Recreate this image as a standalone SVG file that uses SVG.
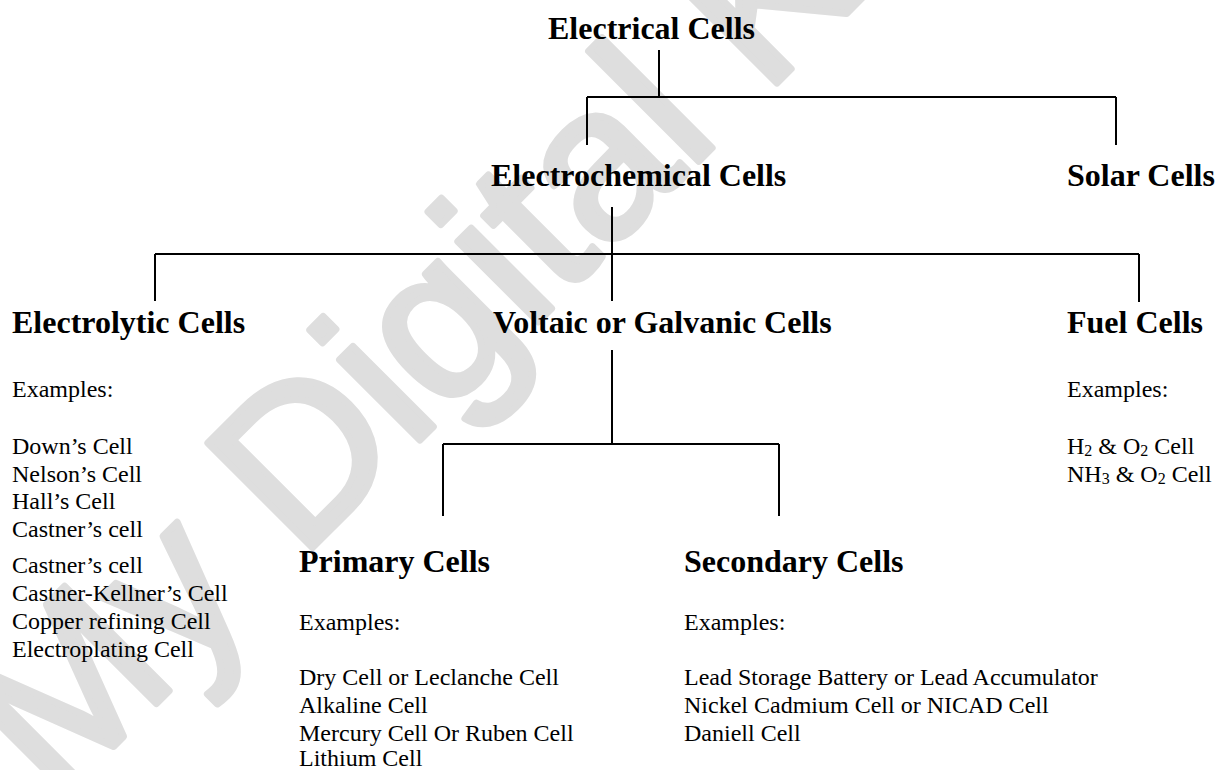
<svg xmlns="http://www.w3.org/2000/svg" width="1217" height="770" viewBox="0 0 1217 770">
<style>
.h{font-family:"Liberation Serif","Times New Roman",serif;font-weight:bold;font-size:32px;fill:#000}
.b{font-family:"Liberation Serif","Times New Roman",serif;font-size:24px;fill:#000}
.sub{font-size:16px}
.c{stroke:#000;stroke-width:2;fill:none}
.wm{font-family:"Liberation Sans",Arial,sans-serif;font-size:215px;fill:#dedede;stroke:#dedede;stroke-width:7;stroke-linejoin:round}
</style>
<rect width="1217" height="770" fill="#fff"/>
<g id="watermark">
<text class="wm" transform="translate(55,805) rotate(-45)">My Digital K</text>
</g>
<g id="connectors" class="c">
<path d="M659,50V97M587,97H1116M587,97V145M1116,97V145"/>
<path d="M612,207V301M155,254H1139M155,254V301M1139,254V302"/>
<path d="M612,350V444M443,444H779M443,444V516M779,444V516"/>
</g>
<g id="electrical"><text class="h" x="548" y="39">Electrical Cells</text></g>
<g id="electrochemical"><text class="h" x="491" y="186">Electrochemical Cells</text></g>
<g id="solar"><text class="h" x="1067" y="186">Solar Cells</text></g>
<g id="electrolytic">
<text class="h" x="12" y="333">Electrolytic Cells</text>
<text class="b" x="12" y="397">Examples:</text>
<text class="b" x="12" y="454">Down’s Cell</text>
<text class="b" x="12" y="482">Nelson’s Cell</text>
<text class="b" x="12" y="509">Hall’s Cell</text>
<text class="b" x="12" y="537">Castner’s cell</text>
<text class="b" x="12" y="573">Castner’s cell</text>
<text class="b" x="12" y="601">Castner-Kellner’s Cell</text>
<text class="b" x="12" y="629">Copper refining Cell</text>
<text class="b" x="12" y="657">Electroplating Cell</text>
</g>
<g id="voltaic"><text class="h" x="493" y="333">Voltaic or Galvanic Cells</text></g>
<g id="fuel">
<text class="h" x="1067" y="333">Fuel Cells</text>
<text class="b" x="1067" y="397">Examples:</text>
<text class="b" x="1067" y="454">H<tspan class="sub" dy="2">2</tspan><tspan dy="-2"> &amp; O</tspan><tspan class="sub" dy="2">2</tspan><tspan dy="-2"> Cell</tspan></text>
<text class="b" x="1067" y="482">NH<tspan class="sub" dy="2">3</tspan><tspan dy="-2"> &amp; O</tspan><tspan class="sub" dy="2">2</tspan><tspan dy="-2"> Cell</tspan></text>
</g>
<g id="primary">
<text class="h" x="299" y="572">Primary Cells</text>
<text class="b" x="299" y="630">Examples:</text>
<text class="b" x="299" y="685">Dry Cell or Leclanche Cell</text>
<text class="b" x="299" y="713">Alkaline Cell</text>
<text class="b" x="299" y="741">Mercury Cell Or Ruben Cell</text>
<text class="b" x="299" y="766">Lithium Cell</text>
</g>
<g id="secondary">
<text class="h" x="684" y="572">Secondary Cells</text>
<text class="b" x="684" y="630">Examples:</text>
<text class="b" x="684" y="685">Lead Storage Battery or Lead Accumulator</text>
<text class="b" x="684" y="713">Nickel Cadmium Cell or NICAD Cell</text>
<text class="b" x="684" y="741">Daniell Cell</text>
</g>
</svg>
